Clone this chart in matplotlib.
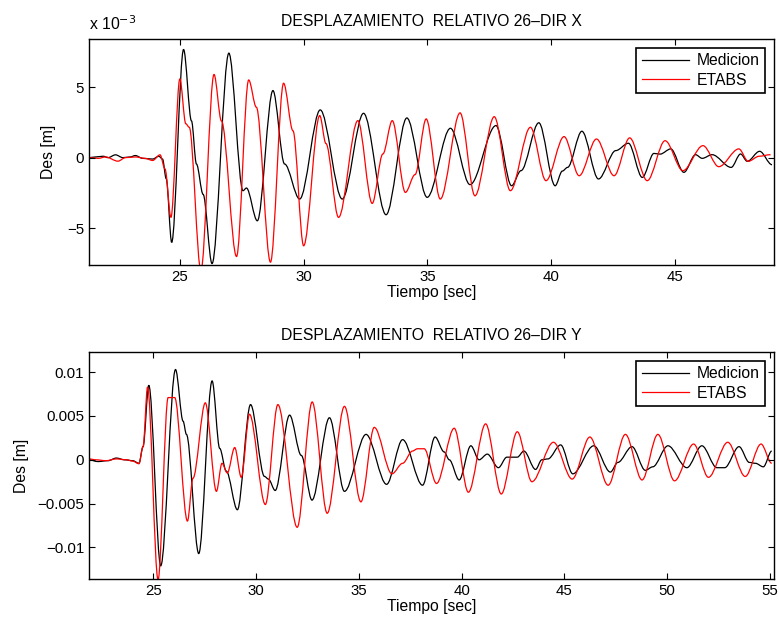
import matplotlib.pyplot as plt
from matplotlib.path import Path
from matplotlib.patches import PathPatch
from matplotlib.lines import Line2D

plt.rcParams['font.family'] = ['Liberation Sans', 'DejaVu Sans']

# ---- Dir X (values in 1e-3 m) ----
tx_med = [21.33, 21.6, 21.9, 22.1, 22.4, 22.7, 23.0, 23.2, 23.5, 23.9, 24.15, 24.3, 24.45,
          24.67, 25.15, 25.47, 25.67, 25.94, 26.30, 26.98, 27.55, 27.69, 28.13, 28.76,
          29.23, 29.84, 30.67, 31.56, 32.42, 33.33, 34.17, 34.99, 35.93, 36.72, 37.77,
          38.4, 38.78, 39.5, 40.16, 40.45, 40.66, 41.24, 41.91, 42.61, 43.12, 43.68,
          44.15, 44.4, 44.83, 45.36, 45.83, 46.1, 46.5, 47.27, 47.65, 47.92, 48.42, 48.92]
vx_med = [0.0, 0.05, 0.1, 0.0, 0.2, 0.0, 0.05, 0.15, -0.05, -0.1, 0.1, -0.1, -1.5,
          -6.0, 7.66, 2.6, -0.45, -2.6, -7.5, 7.4, -2.34, -2.15, -4.47, 4.75,
          -0.45, -2.93, 3.38, -2.93, 3.14, -4.04, 2.81, -2.81, 2.08, -1.91, 2.27,
          -1.99, -0.92, 2.47, -1.99, -0.95, -0.69, 1.87, -1.51, 0.5, 1.02, -1.4,
          0.3, 0.25, 0.62, -1.04, 0.21, -0.05, 0.21, -0.69, 0.26, -0.26, 0.45, -0.5]

tx_eta = [21.33, 21.7, 22.0, 22.5, 22.8, 23.2, 23.6, 23.9, 24.2, 24.4,
          24.64, 25.0, 25.24, 25.38, 25.85, 26.38, 26.68, 27.29, 27.78, 28.09,
          28.66, 29.19, 29.57, 30.0, 30.65, 30.9, 31.41, 32.19, 32.77, 33.2, 33.58,
          34.11, 34.5, 34.95, 35.52, 36.32, 36.92, 37.7, 38.35, 39.16, 39.79,
          40.52, 41.13, 41.83, 42.54, 43.17, 43.88, 44.6, 45.32, 46.13, 46.77,
          47.58, 47.96, 48.4, 48.86]
vx_eta = [0.0, -0.05, 0.05, -0.25, 0.0, 0.05, -0.05, -0.2, 0.2, -0.8,
          -4.23, 5.58, 2.4, 2.15, -8.0, 5.89, 2.6, -7.0, 5.5, 3.57,
          -7.4, 5.27, 1.9, -6.24, 2.98, 1.0, -4.23, 2.62, -3.24, 0.26, 2.62,
          -2.46, -1.2, 2.74, -2.93, 3.17, -2.7, 2.9, -2.34, 2.15, -1.63,
          1.49, -1.28, 1.32, -1.28, 1.4, -1.63, 1.2, -0.92, 0.85, -0.64,
          0.62, -0.26, 0.1, 0.21]

# ---- Dir Y (values in m) ----
ty_med = [21.87, 22.3, 22.8, 23.2, 23.6, 24.0, 24.3, 24.5,
          24.78, 25.36, 26.08, 26.45, 26.61, 27.21, 27.86, 28.23, 28.55, 29.09,
          29.73, 30.41, 30.6, 30.93, 31.63, 32.2, 32.72, 33.57, 34.3, 35.35, 36.35,
          37.13, 38.1, 38.71, 39.15, 39.4, 39.88, 40.45, 40.85, 41.25, 41.79,
          42.2, 42.71, 43.03, 43.6, 43.9, 44.2, 44.82, 45.41, 46.43, 47.24, 47.6,
          48.29, 48.94, 49.3, 50.04, 50.96, 51.69, 52.42, 52.8, 53.5, 54.0, 54.3,
          54.68, 55.09]
vy_med = [0.0, -0.0002, -0.0001, 0.0002, 0.0, -0.0001, -0.0004, 0.0015,
          0.0085, -0.0121, 0.0103, 0.0044, 0.0029, -0.0107, 0.0090, 0.0013, -0.0013, -0.0057,
          0.0063, -0.0019, -0.0022, -0.0035, 0.0051, 0.0005, -0.0046, 0.0048, -0.0036, 0.0029, -0.0028,
          0.0023, -0.0029, 0.0026, 0.0009, 0.0, -0.0023, 0.0016, 0.0, 0.00065, -0.0009,
          0.0003, 0.0003, 0.0010, -0.0011, 0.0, 0.0001, 0.0017, -0.0016, 0.0016, -0.0014, -0.0003,
          0.0015, -0.0012, -0.0008, 0.0016, -0.0009, 0.0016, -0.0009, -0.0009, 0.0015, -0.0003, -0.0004,
          -0.0008, 0.0010]

ty_eta = [21.87, 22.2, 22.7, 23.2, 23.7, 24.0, 24.3, 24.5,
          24.72, 25.23, 25.72, 26.04, 26.66, 26.93, 27.53, 28.07, 28.34, 28.6,
          28.96, 29.28, 29.68, 30.45, 31.06, 32.0, 32.73, 33.46, 34.3, 35.1, 35.75,
          36.61, 37.13, 37.61, 37.85, 38.18, 38.78, 39.64, 40.33, 41.17, 41.93,
          42.71, 43.42, 44.47, 45.38, 46.24, 47.13, 47.97, 48.78, 49.55, 50.36,
          51.29, 52.01, 52.95, 53.8, 54.57, 55.09]
vy_eta = [0.0001, 0.0, -0.0001, 0.0001, 0.0, -0.00015, -0.00045, 0.0015,
          0.0083, -0.0137, 0.0071, 0.0071, -0.0070, -0.0021, 0.0065, -0.0036, -0.0004, -0.0015,
          0.0014, -0.0020, 0.0052, -0.0051, 0.0063, -0.0077, 0.0066, -0.0061, 0.0061, -0.0048, 0.0037,
          -0.0016, -0.0004, 0.0010, 0.00126, 0.00126, -0.0027, 0.0036, -0.0037, 0.0041, -0.0039,
          0.0032, -0.0025, 0.0020, -0.0022, 0.0026, -0.0029, 0.0029, -0.0023, 0.0029, -0.0024,
          0.0018, -0.0020, 0.0020, -0.0019, 0.0018, -0.0004]


def smooth_line(ax, t, v, color):
    # curva suave por los puntos leidos (tangente horizontal en cada punto)
    verts = [(t[0], v[0])]
    codes = [Path.MOVETO]
    for i in range(1, len(t)):
        dt = t[i] - t[i - 1]
        verts += [(t[i - 1] + dt / 3, v[i - 1]), (t[i] - dt / 3, v[i]), (t[i], v[i])]
        codes += [Path.CURVE4] * 3
    ax.add_patch(PathPatch(Path(verts, codes), fill=False, edgecolor=color, lw=0.9))


W, H = 779, 621
fig = plt.figure(figsize=(W / 100, H / 100), dpi=100)
ax1 = fig.add_axes([89 / W, 1 - 265 / H, 685 / W, 226 / H])
ax2 = fig.add_axes([89 / W, 1 - 579 / H, 685 / W, 227 / H])

fs = 11.3
tfs = 10.8
red = '#ff0000'

smooth_line(ax1, tx_med, vx_med, 'k')
smooth_line(ax1, tx_eta, vx_eta, red)
ax1.set_xlim(21.33, 49.0)
ax1.set_ylim(-7.6, 8.4)
ax1.set_yticks([-5, 0, 5])
ax1.set_xticks([25, 30, 35, 40, 45])
ax1.set_title('DESPLAZAMIENTO  RELATIVO 26–DIR X', fontsize=fs, pad=9)
ax1.set_xlabel('Tiempo [sec]', fontsize=fs, labelpad=1)
ax1.set_ylabel('Des [m]', fontsize=fs, labelpad=8)
ax1.text(0.0, 1.025, 'x 10$^{-3}$', transform=ax1.transAxes, fontsize=fs, ha='left', va='bottom')

smooth_line(ax2, ty_med, vy_med, 'k')
smooth_line(ax2, ty_eta, vy_eta, red)
ax2.set_xlim(21.87, 55.2)
ax2.set_ylim(-0.0136, 0.0123)
ax2.set_yticks([-0.01, -0.005, 0, 0.005, 0.01])
ax2.set_yticklabels(['−0.01', '−0.005', '0', '0.005', '0.01'])
ax2.set_xticks([25, 30, 35, 40, 45, 50, 55])
ax2.set_title('DESPLAZAMIENTO  RELATIVO 26–DIR Y', fontsize=fs, pad=9)
ax2.set_xlabel('Tiempo [sec]', fontsize=fs, labelpad=1)
ax2.set_ylabel('Des [m]', fontsize=fs, labelpad=6)

handles = [Line2D([], [], color='k', lw=0.9), Line2D([], [], color=red, lw=0.9)]
for ax in (ax1, ax2):
    ax.tick_params(direction='in', top=True, right=True, labelsize=tfs, length=4)
    for s in ax.spines.values():
        s.set_linewidth(1.0)
    leg = ax.legend(handles, ['Medicion', 'ETABS'], loc='upper right', fontsize=fs,
                    fancybox=False, framealpha=1, edgecolor='k', borderaxespad=0.55,
                    handlelength=3.0, borderpad=0.35, labelspacing=0.3, handletextpad=0.5)
    leg.get_frame().set_linewidth(1.2)

fig.savefig('out.png', dpi=100)
